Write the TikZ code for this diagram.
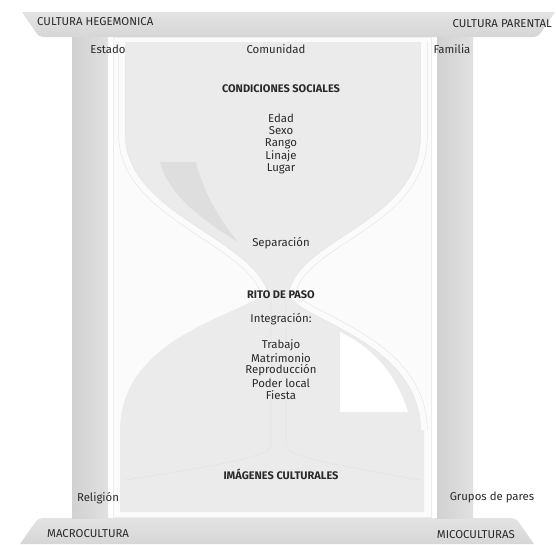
\documentclass[tikz,border=0pt]{standalone}
\usepackage{fontspec}
\setmainfont{Fira Sans}
\usepackage{xcolor}
\usetikzlibrary{positioning}
\definecolor{inkgray}{HTML}{2A2A2A}
\definecolor{bulbgray}{HTML}{EBEBEB}
\tikzset{%
	beam/.style     = {top color=gray!22, bottom color=gray!32}, % cross beam
	pillar/.style   = {left color=gray!36, right color=gray!24}, % column
	panel/.style    = {fill=gray!3, draw=gray!15},
	bulb/.style     = {fill=bulbgray},
	glass/.style    = {draw=gray!20, line width=0.6pt, double=gray!3, double distance=6pt},
	stream/.style   = {draw=gray!22, line width=0.6pt},
	caption/.style  = {text=inkgray, inner sep=1pt, font=\fontsize{11.4}{13}\selectfont}, % plain label
	heading/.style  = {caption, font=\fontsize{11}{13}\selectfont\bfseries}, % bold label
}

\begin{document}
\begin{tikzpicture}[x=1pt,y=-1pt]
	\useasboundingbox (0,0) rectangle (556,544);
	% frame
	\shade[beam] (22,12) -- (555,12) -- (542,31) .. controls (539,36) and (537,37) .. (530,37) -- (46,37) .. controls (40,37) and (38,36) .. (35,31) -- cycle;
	\shade[beam] (20,544) -- (34,524) .. controls (37,519) and (39,518) .. (46,518) -- (508,518) .. controls (515,518) and (517,519) .. (520,524) -- (534,544) -- cycle;
	\shade[pillar] (72,37) rectangle (108,518);
	\shade[pillar] (437,37) rectangle (473,518);
	\filldraw[panel] (113,37) rectangle (431,517);
	
	% hourglass
	\fill[bulb] (122,42) -- (424,42) -- (424,135) .. controls (424,225) and (302,240) .. (292,294) .. controls (305,318) and (423,340) .. (424,430) -- (424,512) -- (120,512) -- (120,430) .. controls (121,340) and (230,318) .. (265,294) .. controls (248,240) and (122,215) .. (122,135) -- cycle;
	\fill[gray!26] (160,162) -- (196,162) .. controls (206,200) and (225,225) .. (238,242) .. controls (205,222) and (168,195) .. (160,162);
	\fill[gray!16] (196,162) -- (221,162) .. controls (223,200) and (230,225) .. (238,242) .. controls (225,225) and (206,200) .. (196,162);
	\fill[white] (340,332) -- (340,412) -- (408,412) .. controls (398,380) and (378,350) .. (340,332);
	\draw[stream] (271,300) -- (271,445) .. controls (271,455) and (240,462) .. (125,480);
	\draw[stream] (286,300) -- (286,445) .. controls (286,455) and (318,462) .. (420,480);
	\draw[glass] (122,42) -- (122,135) .. controls (122,215) and (248,240) .. (265,294);
	\draw[glass] (424,42) -- (424,135) .. controls (424,225) and (302,240) .. (292,294);
	\draw[glass] (292,294) .. controls (305,318) and (423,340) .. (424,430);
	
	% labels
	\node[caption, anchor=west] (hegem) at (36,22) {CULTURA HEGEMONICA};
	\node[caption, anchor=east] (parent) at (553,24) {CULTURA PARENTAL};
	\node[caption] (estado) at (108,49) {Estado};
	\node[caption] (comun) at (276,49) {Comunidad};
	\node[caption] (famil) at (452,49) {Familia};
	\node[heading] (condic) at (281,89) {CONDICIONES SOCIALES};
	\foreach \word [count=\i] in {Edad,Sexo,Rango,Linaje,Lugar}
		\node[caption] (social\i) at (281,106+12.5*\i) {\word};
	\node[caption] (separ) at (281,243) {Separación};
	\node[heading] (rito) at (281,295) {RITO DE PASO};
	\node[caption] (integr) at (281,319) {Integración:};
	\foreach \word [count=\i] in {Trabajo,Matrimonio,Reproducción,Poder local,Fiesta}
		\node[caption] (integr\i) at (281,333+12.5*\i) {\word};
	\node[heading] (imagen) at (281,474) {IMÁGENES CULTURALES};
	\node[caption] (relig) at (98,498) {Religión};
	\node[caption] (grupos) at (492,497) {Grupos de pares};
	\node[caption, anchor=west] (macro) at (46,534) {MACROCULTURA};
	\node[caption, anchor=east] (micro) at (516,535) {MICOCULTURAS};
\end{tikzpicture}
\end{document}
